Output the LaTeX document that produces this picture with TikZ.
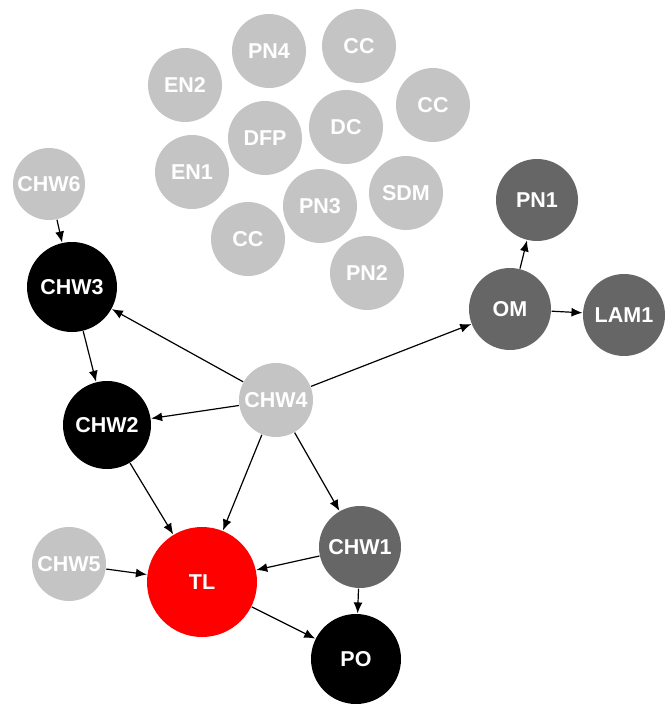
\documentclass[tikz,border=0pt]{standalone}
\usepackage{fontspec}
\setmainfont{Liberation Sans}
\usetikzlibrary{arrows.meta}
\definecolor{lightg}{RGB}{196,196,196}
\definecolor{darkg}{RGB}{102,102,102}
\definecolor{tlred}{RGB}{255,0,0}
\begin{document}
\begin{tikzpicture}[x=1pt, y=-1pt, >={Latex[length=11pt,width=9pt]}, line width=1.2pt, line join=round,
	nd/.style={circle, inner sep=0pt, text=white, font=\fontsize{21.5}{24}\selectfont\bfseries},
	light/.style={nd, fill=lightg, minimum size=74pt},
	dark/.style={nd, fill=darkg, minimum size=82pt},
	blk/.style={nd, fill=black, minimum size=90pt}]
	\useasboundingbox (0,0) rectangle (664,704);
	% unconnected nodes
	\node[light] (pn4) at (269,51) {PN4};
	\node[light] (cca) at (359,46) {CC};
	\node[light] (en2) at (185,85) {EN2};
	\node[light] (ccb) at (433,105) {CC};
	\node[light] (dfp) at (265,138) {DFP};
	\node[light] (dc) at (346,127) {DC};
	\node[light] (en1) at (192,172) {EN1};
	\node[light] (pn3) at (320,206) {PN3};
	\node[light] (sdm) at (406,193) {SDM};
	\node[light] (ccc) at (248,239) {CC};
	\node[light] (pn2) at (367,273) {PN2};
	% network
	\node[light, minimum size=72pt] (chw6) at (49,184) {CHW6};
	\node[blk] (chw3) at (72,287) {CHW3};
	\node[blk, minimum size=88pt] (chw2) at (107,425) {CHW2};
	\node[light] (chw4) at (276,400) {CHW4};
	\node[light] (chw5) at (69,564) {CHW5};
	\node[nd, fill=tlred, minimum size=110pt] (tl) at (202,582) {TL};
	\node[dark] (chw1) at (360,547) {CHW1};
	\node[blk] (po) at (356,659) {PO};
	\node[dark] (om) at (510,309) {OM};
	\node[dark] (pn1) at (537,200) {PN1};
	\node[dark] (lam1) at (624,315) {LAM1};
	\draw[->] (chw6)--(chw3);
	\draw[->] (chw3)--(chw2);
	\draw[->] (chw4)--(chw3);
	\draw[->] (chw4)--(chw2);
	\draw[->] (chw4)--(tl);
	\draw[->] (chw4)--(chw1);
	\draw[->] (chw4)--(om);
	\draw[->] (chw2)--(tl);
	\draw[->] (chw5)--(tl);
	\draw[->] (chw1)--(tl);
	\draw[->] (chw1)--(po);
	\draw[->] (tl)--(po);
	\draw[->] (om)--(pn1);
	\draw[->] (om)--(lam1);
\end{tikzpicture}
\end{document}
